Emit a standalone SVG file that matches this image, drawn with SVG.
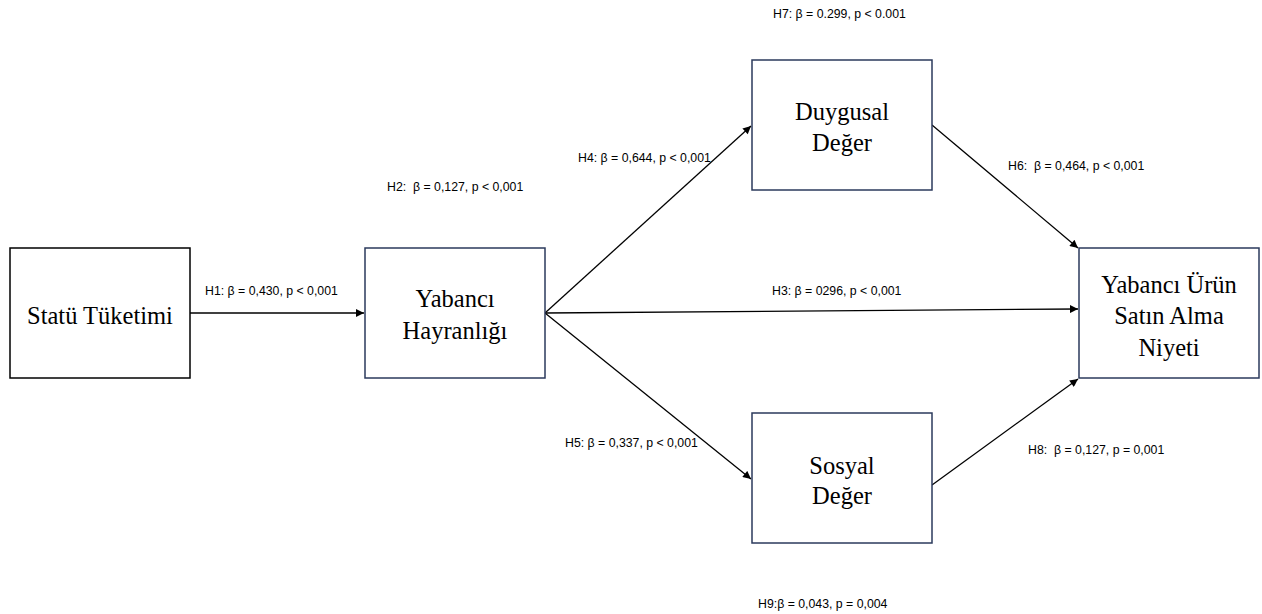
<svg xmlns="http://www.w3.org/2000/svg" width="1262" height="614" viewBox="0 0 1262 614">
<style>
.box{fill:#fff;stroke:#2b3a5c;stroke-width:1.5}
.nt{font-family:"Liberation Serif","Times New Roman",serif;font-size:24.5px;fill:#000;text-anchor:middle}
.lb{font-family:"Liberation Sans",Arial,sans-serif;font-size:12.3px;fill:#000;white-space:pre}
.ed{stroke:#000;stroke-width:1.3;fill:none;marker-end:url(#ah)}
</style>
<defs>
<marker id="ah" viewBox="0 0 10 10" refX="10" refY="5" markerWidth="9" markerHeight="8" markerUnits="userSpaceOnUse" orient="auto">
<path d="M0,0 L10,5 L0,10 z" fill="#000"/>
</marker>
</defs>
<rect width="1262" height="614" fill="#fff"/>
<g id="edges">
<line class="ed" x1="190" y1="313" x2="364" y2="313"/>
<line class="ed" x1="545" y1="313" x2="751" y2="126"/>
<line class="ed" x1="545" y1="313" x2="751" y2="479"/>
<line class="ed" x1="545" y1="313" x2="1078" y2="309"/>
<line class="ed" x1="932" y1="125" x2="1078" y2="248"/>
<line class="ed" x1="932" y1="485" x2="1078" y2="379"/>
</g>
<g id="labels">
<text class="lb" x="773" y="18">H7: β = 0.299, p &lt; 0.001</text>
<text class="lb" x="387" y="191">H2:  β = 0,127, p &lt; 0,001</text>
<text class="lb" x="578" y="162">H4: β = 0,644, p &lt; 0,001</text>
<text class="lb" x="1008" y="170">H6:  β = 0,464, p &lt; 0,001</text>
<text class="lb" x="205" y="295">H1: β = 0,430, p &lt; 0,001</text>
<text class="lb" x="772" y="295">H3: β = 0296, p &lt; 0,001</text>
<text class="lb" x="565" y="447">H5: β = 0,337, p &lt; 0,001</text>
<text class="lb" x="1028" y="454">H8:  β = 0,127, p = 0,001</text>
<text class="lb" x="758" y="608">H9:β = 0,043, p = 0,004</text>
</g>
<g id="n1">
<rect x="10" y="248" width="180" height="130" fill="#fff" stroke="#000" stroke-width="1.5"/>
<text class="nt" x="100" y="324">Statü Tüketimi</text>
</g>
<g id="n2">
<rect class="box" x="365" y="248" width="180" height="130"/>
<text class="nt" x="455" y="307">Yabancı</text>
<text class="nt" x="455" y="339">Hayranlığı</text>
</g>
<g id="n3">
<rect class="box" x="752" y="60" width="180" height="130"/>
<text class="nt" x="842" y="120">Duygusal</text>
<text class="nt" x="842" y="151">Değer</text>
</g>
<g id="n4">
<rect class="box" x="752" y="413" width="180" height="130"/>
<text class="nt" x="842" y="474">Sosyal</text>
<text class="nt" x="842" y="504">Değer</text>
</g>
<g id="n5">
<rect class="box" x="1079" y="248" width="180" height="130"/>
<text class="nt" x="1169" y="293">Yabancı Ürün</text>
<text class="nt" x="1169" y="324">Satın Alma</text>
<text class="nt" x="1169" y="356">Niyeti</text>
</g>
</svg>
